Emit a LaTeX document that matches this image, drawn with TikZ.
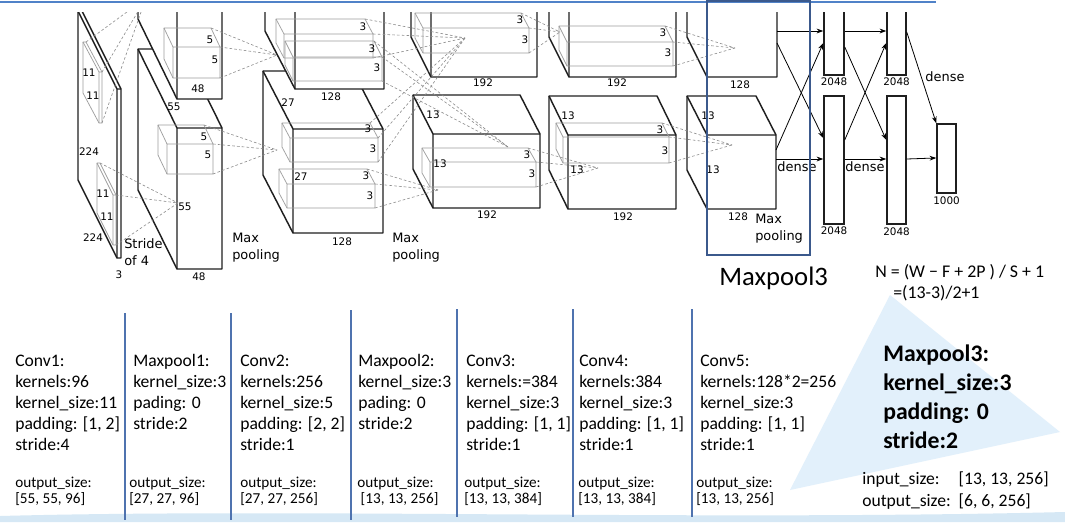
\documentclass[tikz,border=0pt]{standalone}
\usepackage{fontspec}
\setmainfont{Carlito}
\newfontfamily\labelfont{DejaVu Sans}
\usetikzlibrary{positioning}
\usetikzlibrary{arrows.meta}

\definecolor{frameblue}{RGB}{59,89,140}
\definecolor{sepblue}{RGB}{79,115,175}
\definecolor{topblue}{RGB}{80,130,200}
\definecolor{paleblue}{RGB}{226,240,251}
\definecolor{bandblue}{RGB}{214,232,245}

% box: style, front x1, y1, x2, y2, depth dx, dy
\newcommand{\cuboid}[7]{%
 \path[#1] (#2+#6,#3+#7) -- (#4+#6,#3+#7) -- (#4,#3) -- (#4,#5) -- (#2,#5) -- (#2+#6,#5+#7) -- cycle;
 \path[#1,fill=none] (#2+#6,#3+#7) -- (#2,#3) -- (#4,#3) (#2,#3) -- (#2,#5);}

\begin{document}
\begin{tikzpicture}[x=0.75pt,y=-0.75pt,
 block/.style={draw=black!88, fill=white, line width=1.1pt, line join=round},
 kernel/.style={draw=black!38, line width=0.55pt, line join=round},
 conn/.style={draw=black!45, dash pattern=on 2pt off 1.6pt, line width=0.45pt},
 num/.style={font=\labelfont\fontsize{7.8}{9}\selectfont, inner sep=0pt},
 word/.style={font=\labelfont\fontsize{9.7}{12.2}\selectfont, inner sep=0pt, align=left, anchor=base west},
 fc/.style={draw=black!88, fill=white, line width=1.1pt, inner sep=0pt},
 fc arrow/.style={-{Stealth[length=5pt,width=3.6pt]}, line width=0.6pt},
 sep/.style={draw=sepblue, line width=1.2pt},
 colhead/.style={font=\fontsize{13.2}{15.75}\selectfont, align=left, anchor=base west, inner sep=0pt},
 colout/.style={font=\fontsize{11.4}{12}\selectfont, align=left, anchor=base west, inner sep=0pt}]

\useasboundingbox (0,0) rectangle (1065,522);
\fill[white] (0,0) rectangle (1065,522);

 \fill[paleblue] (890,295) -- (1060,432) -- (790,490) -- cycle; % triangle behind Maxpool3
 \fill[bandblue] (0,516) .. controls (300,508) and (700,521) .. (1065,512) -- (1065,522) -- (0,522) -- cycle;
 \draw[topblue, line width=1.5pt] (0,1.5) -- (936,1.5); % top rule

\begin{scope}
 \clip (0,12) rectangle (1065,300);

 % input image and its kernels
 \cuboid{block}{117}{89}{121}{258}{-39}{-78}
 \cuboid{kernel}{99}{72}{102}{123}{-16}{-30}
 \cuboid{kernel}{113}{195}{116}{245}{-16}{-32}

 % conv1
 \cuboid{block}{177}{128}{222}{269}{-39}{-79}
 \cuboid{kernel}{167}{144}{213}{174}{-9}{-19}
 \cuboid{block}{177}{-45}{222}{99}{-39}{-80}
 \cuboid{kernel}{173}{47}{220}{78}{-9}{-19}

 % conv2
 \cuboid{block}{293}{129}{383}{233}{-30}{-58}
 \cuboid{kernel}{290}{138}{378}{162}{-8}{-15}
 \cuboid{kernel}{287}{184}{375}{208}{-8}{-15}
 \cuboid{block}{295}{-40}{384}{89}{-30}{-58}
 \cuboid{kernel}{284}{34}{373}{58}{-8}{-15}
 \cuboid{kernel}{293}{57}{382}{81}{-8}{-16}

 % conv3
 \cuboid{block}{433}{134}{540}{208}{-20}{-39}
 \cuboid{kernel}{430}{162}{536}{187}{-8}{-14}
 \cuboid{block}{431}{-40}{537}{77}{-20}{-40}
 \cuboid{kernel}{423}{28}{529}{53}{-8}{-15}

 % conv4
 \cuboid{block}{568}{135}{676}{209}{-19}{-39}
 \cuboid{kernel}{563}{137}{669}{163}{-7}{-14}
 \cuboid{block}{569}{-40}{676}{77}{-20}{-40}
 \cuboid{kernel}{567}{42}{673}{66}{-8}{-16}

 % conv5
 \cuboid{block}{707}{135}{776}{209}{-20}{-39}
 \cuboid{block}{707}{-40}{777}{77}{-20}{-40}

 % receptive field lines
 \foreach \sx/\sy/\tx/\ty in {86/42/146/-2, 102/72/146/-2, 102/123/146/-2,
   100/163/178/203, 116/195/178/203, 116/245/178/203,
   211/28/277/55, 220/47/277/55, 220/78/277/55,
   204/125/277/150, 213/144/277/150, 213/174/277/150,
   365/19/465/38, 373/34/465/38, 373/58/465/38,
   374/41/508/147, 382/57/508/147, 382/81/508/147,
   370/123/465/38, 378/138/465/38, 378/162/465/38,
   367/169/438/190, 375/184/438/190, 375/208/438/190,
   521/13/560/32, 529/28/560/32, 529/53/560/32,
   528/148/598/168, 536/162/598/168, 536/187/598/168,
   665/26/735/48, 673/42/735/48, 673/66/735/48,
   662/123/732/145, 669/137/732/145, 669/163/732/145}
  \draw[conn] (\sx,\sy) -- (\tx,\ty);

 % sizes
 \foreach \t/\x/\y [count=\i] in {11/89/73, 11/93/96, 224/89/152, 11/103/194, 11/107/217, 224/93/238, 3/119/275,
   5/210/40, 5/215/60, 48/198/89, 55/174/107, 5/204/137, 5/208/155, 55/185/207, 48/199/277,
   3/363/27, 3/372/49, 3/377/68, 128/331/97, 27/288/103, 3/368/129, 3/373/149, 27/301/177, 3/366/176, 3/370/196, 128/342/242,
   3/520/20, 3/525/40, 192/483/83, 13/433/115, 13/440/164, 3/527/155, 3/532/174, 192/487/215,
   3/663/33, 3/668/53, 192/617/83, 13/568/116, 3/660/130, 3/665/151, 13/577/170, 192/623/217,
   128/740/85, 13/708/116, 13/713/170, 128/738/217}
  \node[num] (size\i) at (\x,\y) {\t};

 \node[word] (stride) at (124,265) {Stride\\of 4};
 \node[word] (pool1) at (232,259) {Max\\pooling};
 \node[word] (pool2) at (392,259) {Max\\pooling};
 \node[word] (pool3) at (755,240) {Max\\pooling};

 % dense layers
 \node[fc, minimum width=15pt, minimum height=96pt] (d1u) at (834,11) {};
 \node[fc, minimum width=15pt, minimum height=96pt] (d1l) at (834,160) {};
 \node[fc, minimum width=14.25pt, minimum height=96pt] (d2u) at (896.5,11) {};
 \node[fc, minimum width=14.25pt, minimum height=96pt] (d2l) at (896.5,160) {};
 \node[fc, minimum width=14.25pt, minimum height=51.75pt] (out) at (946.5,158.5) {};

 \node[num, below=1.6pt of d1u] (d1u-n) {2048};
 \node[num, below=1.6pt of d1l] (d1l-n) {2048};
 \node[num, below=1.6pt of d2u] (d2u-n) {2048};
 \node[num, below=2.2pt of d2l] (d2l-n) {2048};
 \node[num, below=2.2pt of out] (out-n) {1000};

 \coordinate (c5u-a) at (777,31);
 \coordinate (c5u-b) at (777,43);
 \coordinate (c5l-a) at (776,150);
 \coordinate (c5l-b) at (776,159);

 \draw[fc arrow] (c5u-a) -- ([yshift=-15pt]d1u.west);
 \draw[fc arrow] (c5u-b) -- ([yshift=16.5pt]d1l.west);
 \draw[fc arrow] (c5l-a) -- ([yshift=-24pt]d1u.west);
 \draw[fc arrow] (c5l-b) -- ([yshift=0.75pt]d1l.west);
 \draw[fc arrow] ([yshift=-15pt]d1u.east) -- ([yshift=-15pt]d2u.west);
 \draw[fc arrow] ([yshift=-27pt]d1u.east) -- ([yshift=15pt]d2l.west);
 \draw[fc arrow] ([yshift=15pt]d1l.east) -- ([yshift=-24pt]d2u.west);
 \draw[fc arrow] ([yshift=0.75pt]d1l.east) -- ([yshift=0.75pt]d2l.west);
 \draw[fc arrow] ([yshift=-15.75pt]d2u.east) -- (out.north west);
 \draw[fc arrow] ([yshift=0.75pt]d2l.east) -- ([yshift=0.4pt]out.west);

 \node[word, anchor=center] (dense1) at (797,167) {dense};
 \node[word, anchor=center] (dense2) at (865,167) {dense};
 \node[word, anchor=center] (dense3) at (945,77) {dense};
\end{scope}

 \draw[frameblue, line width=2.2pt] (707,1) rectangle (810,255); % Maxpool3 frame
 \node[anchor=base west, inner sep=0pt, font=\fontsize{20}{24}\selectfont] (mp3) at (719,285) {Maxpool3};
 \node[anchor=base west, inner sep=0pt, font=\fontsize{13.4}{15.75}\selectfont] (formula) at (875,277) {N = (W − F + 2P ) / S + 1};
 \node[anchor=base west, inner sep=0pt, font=\fontsize{13.4}{15.75}\selectfont] (calc) at (893,298) {=(13-3)/2+1};

 % columns
 \foreach \x/\a/\b in {125/313/520, 231/313/520, 351/310/520, 457/309/517, 573/309/517, 692/309/517}
  \draw[sep] (\x,\a) -- (\x,\b);

 \node[colhead] (conv1) at (15,450) {Conv1:\\kernels:96\\kernel\_size:11\\padding: [1, 2]\\stride:4};
 \node[colhead] (max1) at (133,429) {Maxpool1:\\kernel\_size:3\\pading: 0\\stride:2};
 \node[colhead] (conv2) at (240,450) {Conv2:\\kernels:256\\kernel\_size:5\\padding: [2, 2]\\stride:1};
 \node[colhead] (max2) at (358,429) {Maxpool2:\\kernel\_size:3\\pading: 0\\stride:2};
 \node[colhead] (conv3) at (466,450) {Conv3:\\kernels:=384\\kernel\_size:3\\padding: [1, 1]\\stride:1};
 \node[colhead] (conv4) at (579,450) {Conv4:\\kernels:384\\kernel\_size:3\\padding: [1, 1]\\stride:1};
 \node[colhead] (conv5) at (700,450) {Conv5:\\kernels:128*2=256\\kernel\_size:3\\padding: [1, 1]\\stride:1};

 \node[colout] (out1) at (15,503) {output\_size:\\{}[55, 55, 96]};
 \node[colout] (out2) at (129,503) {output\_size:\\{}[27, 27, 96]};
 \node[colout] (out3) at (240,503) {output\_size:\\{}[27, 27, 256]};
 \node[colout] (out4) at (357,503) {output\_size:\\~[13, 13, 256]};
 \node[colout] (out5) at (464,503) {output\_size:\\{}[13, 13, 384]};
 \node[colout] (out6) at (578,503) {output\_size:\\{}[13, 13, 384]};
 \node[colout] (out7) at (696,503) {output\_size:\\{}[13, 13, 256]};

 \node[colhead, font=\bfseries\fontsize{17.8}{21.75}\selectfont] (max3) at (883,448) {Maxpool3:\\kernel\_size:3\\padding: 0\\stride:2};
 \node[anchor=base west, inner sep=0pt, font=\fontsize{13.2}{16.5}\selectfont] (io3) at (862,484)
  {\begin{tabular}[t]{@{}l@{\hspace{0.45em}}l@{}}input\_size: & [13, 13, 256]\\ output\_size: & [6, 6, 256]\end{tabular}};

\end{tikzpicture}
\end{document}
